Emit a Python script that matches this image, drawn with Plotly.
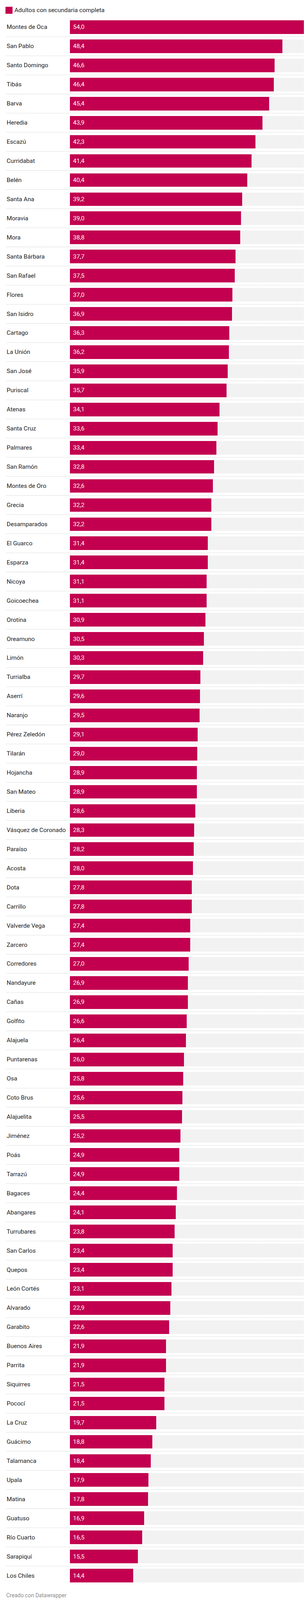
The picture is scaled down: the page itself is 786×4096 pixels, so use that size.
import plotly.graph_objects as go

municipios = [
    "Montes de Oca", "San Pablo", "Santo Domingo", "Tibás", "Barva", "Heredia",
    "Escazú", "Curridabat", "Belén", "Santa Ana", "Moravia", "Mora",
    "Santa Bárbara", "San Rafael", "Flores", "San Isidro", "Cartago", "La Unión",
    "San José", "Puriscal", "Atenas", "Santa Cruz", "Palmares", "San Ramón",
    "Montes de Oro", "Grecia", "Desamparados", "El Guarco", "Esparza", "Nicoya",
    "Goicoechea", "Orotina", "Oreamuno", "Limón", "Turrialba", "Aserrí",
    "Naranjo", "Pérez Zeledón", "Tilarán", "Hojancha", "San Mateo", "Liberia",
    "Vásquez de Coronado", "Paraíso", "Acosta", "Dota", "Carrillo", "Valverde Vega",
    "Zarcero", "Corredores", "Nandayure", "Cañas", "Golfito", "Alajuela",
    "Puntarenas", "Osa", "Coto Brus", "Alajuelita", "Jiménez", "Poás",
    "Tarrazú", "Bagaces", "Abangares", "Turrubares", "San Carlos", "Quepos",
    "León Cortés", "Alvarado", "Garabito", "Buenos Aires", "Parrita", "Siquirres",
    "Pococí", "La Cruz", "Guácimo", "Talamanca", "Upala", "Matina",
    "Guatuso", "Río Cuarto", "Sarapiquí", "Los Chiles",
]

secundaria = [
    54.0, 48.4, 46.6, 46.4, 45.4, 43.9,
    42.3, 41.4, 40.4, 39.2, 39.0, 38.8,
    37.7, 37.5, 37.0, 36.9, 36.3, 36.2,
    35.9, 35.7, 34.1, 33.6, 33.4, 32.8,
    32.6, 32.2, 32.2, 31.4, 31.4, 31.1,
    31.1, 30.9, 30.5, 30.3, 29.7, 29.6,
    29.5, 29.1, 29.0, 28.9, 28.9, 28.6,
    28.3, 28.2, 28.0, 27.8, 27.8, 27.4,
    27.4, 27.0, 26.9, 26.9, 26.6, 26.4,
    26.0, 25.8, 25.6, 25.5, 25.2, 24.9,
    24.9, 24.4, 24.1, 23.8, 23.4, 23.4,
    23.1, 22.9, 22.6, 21.9, 21.9, 21.5,
    21.5, 19.7, 18.8, 18.4, 17.9, 17.8,
    16.9, 16.5, 15.5, 14.4,
]

serie_nombre = "Adultos con secundaria completa"
fuente = "Creado con Datawrapper"

S = 0.644
W, H = 786, 4096
BAR_COLOR = "#c2004f"
TRACK_COLOR = "#f2f2f2"

# plot area in reference pixels
left_px = 266 * S
right_px = 1208 * S
top_px = 57 * S
bottom_px = 6289 * S
pw = right_px - left_px
ph = bottom_px - top_px


def px_x(x):
    return (x - left_px) / pw


def px_y(y):
    return (bottom_px - y) / ph


n = len(municipios)
xmax = max(secundaria)

fig = go.Figure()
fig.add_trace(go.Bar(
    x=[xmax] * n, y=municipios, orientation="h",
    marker=dict(color=TRACK_COLOR, line=dict(width=0)),
    width=54 / 76, hoverinfo="skip", showlegend=False,
))
fig.add_trace(go.Bar(
    x=secundaria, y=municipios, orientation="h",
    marker=dict(color=BAR_COLOR, line=dict(width=0)),
    width=54 / 76, name=serie_nombre, showlegend=False,
))

annotations = []
shapes = []
for i, (m, v) in enumerate(zip(municipios, secundaria)):
    annotations.append(dict(
        x=px_x(12 * S), xref="paper", y=m, yref="y",
        text=m, showarrow=False, xanchor="left", yanchor="middle",
        font=dict(family="Roboto", size=15.5, color="#222222"),
    ))
    annotations.append(dict(
        x=0, xref="x", y=m, yref="y", xshift=5.5,
        text=f"{v:.1f}".replace(".", ","), showarrow=False,
        xanchor="left", yanchor="middle",
        font=dict(family="Roboto", size=15.5, color="#ffffff"),
    ))
    if i < n - 1:
        shapes.append(dict(
            type="line", xref="paper", yref="y",
            x0=px_x(12 * S), x1=1, y0=i + 0.5, y1=i + 0.5,
            line=dict(color="#d6d6d6", width=1.3, dash="1.2px,0.8px"),
        ))

# legend
shapes.append(dict(
    type="rect", xref="paper", yref="paper",
    x0=px_x(10 * S), x1=px_x(38 * S), y0=px_y(42 * S), y1=px_y(14 * S),
    fillcolor=BAR_COLOR, line=dict(width=0),
))
annotations.append(dict(
    x=px_x(43 * S), xref="paper", y=px_y(28 * S), yref="paper",
    text=serie_nombre, showarrow=False, xanchor="left", yanchor="middle",
    font=dict(family="Roboto", size=15.5, color="#222222"),
))
# footer
annotations.append(dict(
    x=px_x(10 * S), xref="paper", y=px_y(6330 * S), yref="paper",
    text=fuente, showarrow=False, xanchor="left", yanchor="middle",
    font=dict(family="Roboto", size=14, color="#8a8a8a"),
))

fig.update_layout(
    width=W, height=H,
    margin=dict(l=left_px, r=W - right_px, t=top_px, b=H - bottom_px, pad=0),
    paper_bgcolor="white", plot_bgcolor="white",
    barmode="overlay", bargap=0,
    xaxis=dict(range=[0, xmax], visible=False, fixedrange=True),
    yaxis=dict(
        type="category", categoryorder="array", categoryarray=municipios,
        range=[n - 0.5, -0.5], visible=False, fixedrange=True,
    ),
    annotations=annotations, shapes=shapes,
    showlegend=False,
)

fig.write_html("out.html")
